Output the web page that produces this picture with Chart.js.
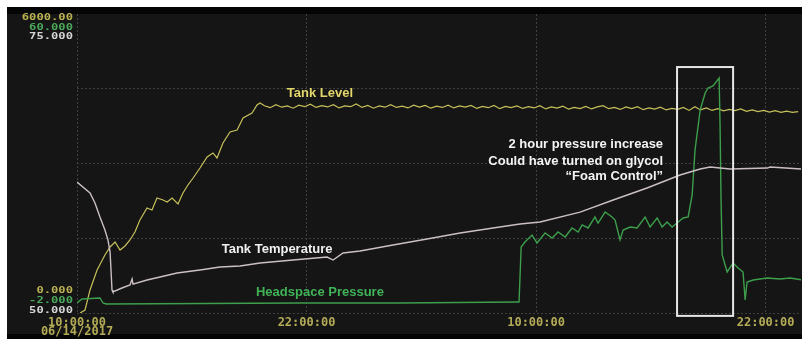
<!DOCTYPE html>
<html><head><meta charset="utf-8">
<script src="https://cdn.jsdelivr.net/npm/chart.js@4.4.0/dist/chart.umd.min.js"></script>
<style>html,body{margin:0;padding:0;background:#fff;overflow:hidden;} #wrap{width:802px;height:339px;}</style>
</head><body><div id="wrap"><canvas id="c" width="802" height="339"></canvas></div>
<script>
// ---- data (x in hours since 10:00:00 06/14/2017) ----
const xTickLabels = [['10:00:00', '06/14/2017'], '22:00:00', '10:00:00', '22:00:00'];
const levelRange = [0, 6000];
const pressureRange = [-2, 60];
const tempRange = [50, 75];
const topLabels = ['6000.00', '60.000', '75.000'];
const bottomLabels = ['0.000', '-2.000', '50.000'];

const tankLevelHours = [0.16,0.42,0.68,1.05,1.46,1.73,1.99,2.25,2.51,2.77,3.03,3.29,3.66,3.92,4.18,4.50,4.71,4.97,5.28,5.54,5.80,6.07,6.43,6.80,7.11,7.32,7.63,8.00,8.37,8.68,9.15,9.41,9.57,
 9.8,10.1,10.4,10.7,11.0,11.3,11.6,11.9,12.2,12.5,12.8,13.1,13.4,13.7,14.0,14.3,14.6,14.9,15.2,15.5,15.8,16.1,16.4,16.7,17.0,17.3,17.6,17.9,18.2,18.5,18.8,19.1,19.4,19.7,20.0,20.3,20.6,20.9,21.2,21.5,21.8,22.1,22.4,22.7,23.0,23.3,23.6,23.9,24.2,24.5,24.8,25.1,25.4,25.7,26.0,26.3,26.6,26.9,27.2,27.5,27.8,28.1,28.4,28.7,29.0,29.3,29.6,29.9,30.2,30.5,30.8,31.1,31.4,31.7,32.0,32.3,32.6,32.9,33.2,33.5,33.8,34.1,34.4,34.7,35.0,35.3,35.6,35.9,36.2,36.5,36.8,37.1,37.4,37.7];
const tankLevelValues = [0,60,462,863,1164,1325,1425,1264,1345,1465,1626,1866,2107,2067,2308,2268,2228,2308,2188,2408,2569,2709,2910,3131,3211,3111,3412,3633,3673,3914,4014,4174,4215,
 4160,4120,4180,4130,4155,4110,4170,4140,4190,4125,4160,4135,4180,4115,4155,4140,4195,4125,4165,4110,4155,4130,4180,4125,4150,4115,4170,4130,4165,4110,4150,4125,4170,4115,4155,4130,4165,4105,4145,4120,4165,4100,4145,4120,4155,4105,4140,4115,4160,4095,4135,4110,4150,4090,4125,4100,4145,4095,4135,4160,4100,4125,4085,4135,4100,4140,4080,4115,4090,4130,4075,4105,4085,4125,4065,4140,4075,4115,4065,4100,4055,4085,4060,4095,4045,4075,4040,4065,4030,4060,4025,4050,4025,4040];

const tempHours = [0,0.68,0.94,1.20,1.46,1.62,1.73,1.83,1.88,2.35,2.77,2.88,2.93,3.66,4.34,5.23,6.43,7.48,8.52,9.57,11.29,13.07,13.39,13.91,14.80,16.52,18.30,20.03,21.75,23.16,24.21,26.30,28.03,29.80,31.53,32.58,33.10,34.14,36.08,36.24,37.91];
const tempValues = [60.95,60.03,59.20,58.03,56.94,56.10,55.10,51.92,51.76,52.09,52.34,52.84,52.42,52.76,53.01,53.34,53.60,53.85,53.93,54.18,54.43,54.68,54.43,55.02,55.18,55.69,56.19,56.69,57.11,57.44,57.61,58.44,59.45,60.45,61.54,62.04,62.21,62.04,62.12,62.21,62.04];

const pressureHours = [0,0.26,1.20,1.36,1.52,11.66,16.89,23.01,23.11,23.22,23.42,23.79,24.05,24.47,24.84,25.15,25.52,25.88,26.20,26.41,26.72,27.08,27.24,27.61,27.97,28.13,28.39,28.55,28.92,29.28,29.70,29.96,30.33,30.59,30.85,31.11,31.37,31.69,31.95,32.16,32.31,32.58,32.84,32.99,33.25,33.57,33.62,33.67,33.73,33.99,34.30,34.56,34.82,34.93,35.03,35.35,35.71,36.08,36.76,37.28,37.91];
const pressureValues = [0.07,0.90,1.11,0.07,-0.13,0.07,0.07,0.28,0.28,11.69,12.72,14.17,12.52,14.59,13.55,14.80,13.76,15.63,14.80,16.25,15.63,17.91,16.66,18.94,17.91,17.28,13.14,15.21,15.83,15.63,17.91,15.83,17.70,15.83,16.87,15.83,16.66,17.70,17.91,22.47,31.80,40.09,43.62,44.66,45.07,46.73,36.57,21.43,10.03,6.50,8.37,7.33,6.50,0.70,4.43,4.84,5.05,5.26,5.05,5.26,4.84];

const boxHours = [31.37, 34.30];
const boxPressure = [-2.6, 49.0];

const notes = [
  {text: 'Tank Level', x: 12.7, axis: 'yL', v: 4415, color: '#e2d66a', align: 'center'},
  {text: 'Tank Temperature', x: 10.46, axis: 'yT', v: 55.35, color: '#f0f0f0', align: 'center'},
  {text: 'Headspace Pressure', x: 12.7, axis: 'yP', v: 2.35, color: '#3fb356', align: 'center'},
  {text: '2 hour pressure increase', x: 30.64, axis: 'yP', v: 33.0, color: '#f4f4f4', align: 'right'},
  {text: 'Could have turned on glycol', x: 30.64, axis: 'yP', v: 29.5, color: '#f4f4f4', align: 'right'},
  {text: '\u201CFoam Control\u201D', x: 30.64, axis: 'yP', v: 26.4, color: '#f4f4f4', align: 'right'}
];

const pts = (xs, ys) => xs.map((x, i) => ({x: x, y: ys[i]}));

const bgPlugin = {
  id: 'bg',
  beforeDraw(chart) {
    const c = chart.ctx;
    c.save();
    c.fillStyle = '#ffffff'; c.fillRect(0, 0, chart.width, chart.height);
    c.fillStyle = '#050505'; c.fillRect(7, 7, chart.width - 7, chart.height - 7);
    c.fillStyle = '#151515'; c.fillRect(7, 14, chart.width - 7, 320);
    c.restore();
  }
};

const labelPlugin = {
  id: 'labels',
  afterDatasetsDraw(chart) {
    const c = chart.ctx, a = chart.chartArea, s = chart.scales;
    c.save();
    // stacked axis range labels
    const cols = ['#b9b152', '#4aa85a', '#d4d4d4'];
    c.font = 'bold 9px "DejaVu Sans Mono"';
    c.textAlign = 'right'; c.textBaseline = 'middle';
    const topY = [3.5, 13.5, 22.5], botY = [-22, -12, -2.5];
    for (let i = 0; i < 3; i++) {
      c.fillStyle = cols[i];
      c.save(); c.translate(73, a.top + topY[i]); c.scale(1.35, 1); c.fillText(topLabels[i], 0, 0); c.restore();
      c.save(); c.translate(73, a.bottom + botY[i]); c.scale(1.35, 1); c.fillText(bottomLabels[i], 0, 0); c.restore();
    }
    // highlight box
    const x0 = s.x.getPixelForValue(boxHours[0]), x1 = s.x.getPixelForValue(boxHours[1]);
    const y0 = s.yP.getPixelForValue(boxPressure[1]), y1 = s.yP.getPixelForValue(boxPressure[0]);
    c.strokeStyle = '#e6e6e6'; c.lineWidth = 2;
    c.strokeRect(x0, y0, x1 - x0, y1 - y0);
    // notes
    c.font = 'bold 13px "Liberation Sans", Arial, sans-serif';
    c.textBaseline = 'middle';
    notes.forEach(n => {
      c.fillStyle = n.color; c.textAlign = n.align;
      c.fillText(n.text, s.x.getPixelForValue(n.x), s[n.axis].getPixelForValue(n.v));
    });
    c.restore();
  }
};

const hiddenY = (r) => ({type: 'linear', display: false, min: r[0], max: r[1]});

new Chart(document.getElementById('c'), {
  type: 'line',
  data: {
    datasets: [
      {label: 'Tank Temperature', data: pts(tempHours, tempValues), yAxisID: 'yT', borderColor: '#cbbfc6', borderWidth: 1.4},
      {label: 'Headspace Pressure', data: pts(pressureHours, pressureValues), yAxisID: 'yP', borderColor: '#3d9f4c', borderWidth: 1.4},
      {label: 'Tank Level', data: pts(tankLevelHours, tankLevelValues), yAxisID: 'yL', borderColor: '#c6c05a', borderWidth: 1.2}
    ]
  },
  options: {
    responsive: false,
    animation: false,
    devicePixelRatio: 1,
    layout: {padding: {left: 77, top: 14, right: 1, bottom: 0}},
    elements: {point: {radius: 0}, line: {tension: 0}},
    plugins: {legend: {display: false}, tooltip: {enabled: false}},
    scales: {
      x: {
        type: 'linear', min: 0, max: 37.85,
        afterFit: (ax) => { ax.height = 26; },
        grid: {color: '#404040', drawTicks: false, lineWidth: 1},
        border: {display: false, dash: [2, 2]},
        ticks: {
          stepSize: 12, includeBounds: false, autoSkip: false, maxRotation: 0, padding: 5,
          color: '#b3ab55',
          font: {family: '"DejaVu Sans Mono"', size: 12, weight: 'bold', lineHeight: '9px'},
          callback: (v) => xTickLabels[Math.round(v / 12)]
        }
      },
      yL: {
        type: 'linear', position: 'left', min: levelRange[0], max: levelRange[1],
        afterFit: (ax) => { ax.width = 0; },
        grid: {color: (ctx) => ctx.tick && ctx.tick.value === levelRange[1] ? 'rgba(0,0,0,0)' : '#404040', drawTicks: false},
        border: {display: false, dash: [2, 2]},
        ticks: {display: false, stepSize: 1500}
      },
      yP: hiddenY(pressureRange),
      yT: hiddenY(tempRange)
    }
  },
  plugins: [bgPlugin, labelPlugin]
});
</script>
</body></html>
